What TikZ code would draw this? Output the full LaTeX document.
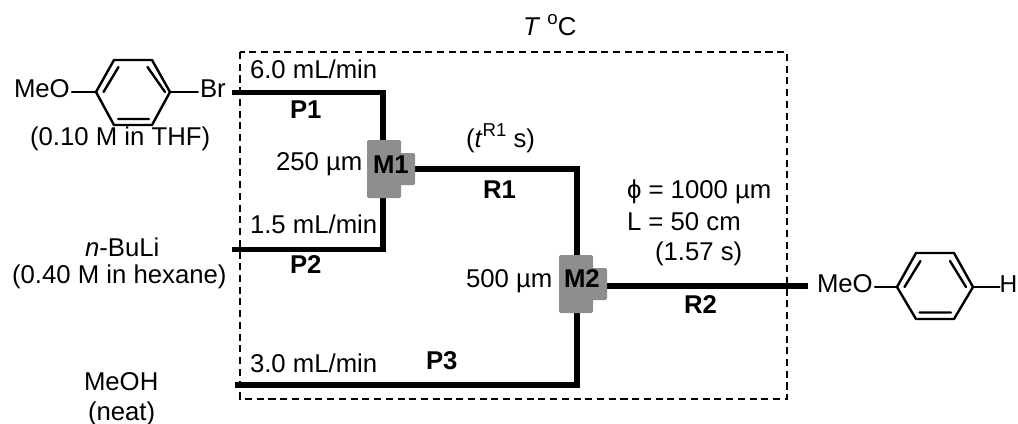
\documentclass[tikz,border=0pt]{standalone}
\usepackage{fontspec}
\usetikzlibrary{calc}
\setmainfont{Liberation Sans}
\tikzset{
  txt/.style={inner sep=0pt,outer sep=0pt,anchor=base west,font=\fontsize{19.3bp}{22bp}\selectfont},
  ctxt/.style={txt,anchor=base},
  bld/.style={txt,font=\fontsize{19.3bp}{22bp}\selectfont\bfseries},
  tube/.style={line width=4.1bp,line cap=butt,line join=miter,black},
  bond/.style={line width=1.8bp,line cap=round,line join=round,black},
  thinbond/.style={line width=1.5bp,line cap=round,black},
  frame/.style={line width=1.7bp,black,dash pattern=on 5.3bp off 3.5bp},
  mixer/.style={fill=mixgray,draw=none,rounded corners=1bp,inner sep=0pt,outer sep=0pt,minimum width=#1},
}
\newcommand{\supt}[1]{\raisebox{0.42em}{\fontsize{14bp}{16bp}\selectfont #1}}
\definecolor{mixgray}{HTML}{8E8E8E}
\begin{document}
\begin{tikzpicture}[x=0.75bp,y=-0.75bp]
\useasboundingbox (0,0) rectangle (1018,424);
% temperature zone
\draw[frame] (240,52) rectangle (787,399);
\node[txt] (temp) at (523,35) {\textit{T} \supt{o}C};
% coordinates
\coordinate (p1s) at (232,92.5);
\coordinate (p1c) at (383,92.5);
\coordinate (p2s) at (232,249.5);
\coordinate (p2c) at (383,249.5);
\coordinate (p3s) at (235,385);
\coordinate (p3c) at (577,385);
\coordinate (r1c) at (577,169);
\coordinate (r2e) at (808,286);
% mixers
\coordinate (m1in) at (383,169);
\coordinate (m2in) at (577,286);
\draw[tube] (p1s) -- (p1c) -- (m1in);
\draw[tube] (p2s) -- (p2c) -- (m1in);
\draw[tube] (m1in) -- (r1c) -- (m2in);
\draw[tube] (p3s) -- (p3c) -- (m2in);
\draw[tube] (m2in) -- (r2e);
\node[mixer=34*0.75bp,minimum height=58*0.75bp] (m1) at (384,169) {};
\node[mixer=20*0.75bp,minimum height=32*0.75bp] (m1b) at (405,169) {};
\node[mixer=34*0.75bp,minimum height=58*0.75bp] (m2) at (576,284) {};
\node[mixer=20*0.75bp,minimum height=32*0.75bp] (m2b) at (597,284) {};
\node[bld] (m1t) at (373,173) {M1};
\node[bld] (m2t) at (564,287) {M2};
% reagent 1
\node[txt] (meo1) at (14,97) {MeO};
\node[txt] (br) at (200,97) {Br};
\coordinate (a1) at (96,92);
\coordinate (a2) at (114,60);
\coordinate (a3) at (152,60);
\coordinate (a4) at (170,92);
\coordinate (a5) at (152,125);
\coordinate (a6) at (114,125);
\draw[bond] (a1) -- (a2) -- (a3) -- (a4) -- (a5) -- (a6) -- cycle;
\draw[bond] (103.5,92) -- (118.5,67) (147.5,67) -- (165,92) (118,119) -- (149,119);
\draw[thinbond] ($(meo1.east |- a1)+(2,0)$) -- (a1);
\draw[thinbond] (a4) -- ($(br.west |- a4)+(-2,0)$);
\node[txt] (c1) at (30,145) {(0.10 M in THF)};
% product
\node[txt] (meo2) at (817,292) {MeO};
\node[txt,font=\fontsize{18.4bp}{22bp}\selectfont] (h) at (999.5,292) {H};
\coordinate (b1) at (897,287);
\coordinate (b2) at (916,253);
\coordinate (b3) at (954,253);
\coordinate (b4) at (973,287);
\coordinate (b5) at (954,319);
\coordinate (b6) at (916,319);
\draw[bond] (b1) -- (b2) -- (b3) -- (b4) -- (b5) -- (b6) -- cycle;
\draw[bond] (904.5,287) -- (920.5,261) (950,261) -- (966,287) (919.5,312.5) -- (951,312.5);
\draw[thinbond] ($(meo2.east |- b1)+(2,0)$) -- (b1);
\draw[thinbond] (b4) -- (h.west |- b4);
% other reagents
\node[txt] (buli) at (85,256) {\textit{n}-BuLi};
\node[txt] (c2) at (12,283) {(0.40 M in hexane)};
\node[txt] (meoh) at (84,390) {MeOH};
\node[txt] (c3) at (88,420) {(neat)};
% labels
\node[txt] (f1) at (250,78) {6.0 mL/min};
\node[txt] (f2) at (250,233) {1.5 mL/min};
\node[txt] (f3) at (250,372) {3.0 mL/min};
\node[bld] (p1) at (290,118) {P1};
\node[bld] (p2) at (290,273) {P2};
\node[bld] (p3) at (426,369) {P3};
\node[bld] (r1) at (483,198) {R1};
\node[bld] (r2) at (684,313) {R2};
\node[txt] (d1) at (276,170) {250 µm};
\node[txt] (d2) at (466,287) {500 µm};
\node[txt] (tr1) at (466,147) {(\textit{t}\supt{R1} s)};
\node[txt] (phi) at (627,198) {ϕ = 1000 µm};
\node[txt] (len) at (627,230) {L = 50 cm};
\node[txt] (t2) at (655,260) {(1.57 s)};
\end{tikzpicture}
\end{document}
